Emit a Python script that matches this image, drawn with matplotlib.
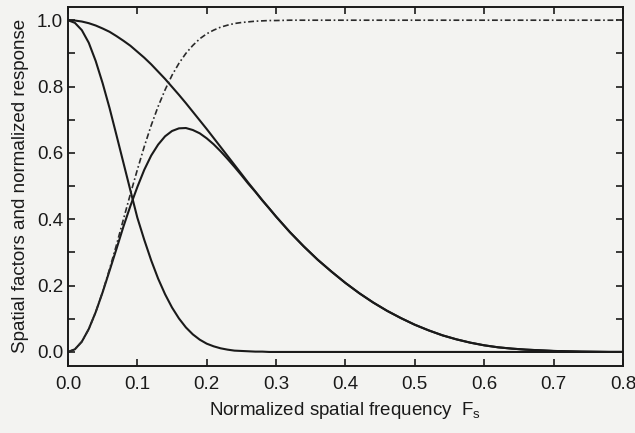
import matplotlib
matplotlib.use("Agg")
import matplotlib.pyplot as plt
from matplotlib.ticker import MultipleLocator

plt.rcParams['font.family'] = ['Liberation Sans', 'DejaVu Sans']
plt.rcParams['mathtext.fontset'] = 'custom'
plt.rcParams['mathtext.rm'] = 'Liberation Sans'

# Normalized spatial frequency
freq = [0.00, 0.01, 0.02, 0.03, 0.04, 0.05, 0.06, 0.07, 0.08, 0.09,
        0.10, 0.11, 0.12, 0.13, 0.14, 0.15, 0.16, 0.17, 0.18, 0.19,
        0.20, 0.21, 0.22, 0.23, 0.24, 0.25, 0.26, 0.27, 0.28, 0.29,
        0.30, 0.32, 0.34, 0.36, 0.38, 0.40, 0.42, 0.44, 0.46, 0.48,
        0.50, 0.52, 0.54, 0.56, 0.58, 0.60, 0.62, 0.64, 0.66, 0.68,
        0.70, 0.72, 0.74, 0.76, 0.78, 0.80]

# Narrow spatial factor (falls fast)
narrow = [1.000, 0.992, 0.970, 0.932, 0.877, 0.810, 0.735, 0.653, 0.570, 0.487,
          0.405, 0.338, 0.276, 0.221, 0.174, 0.134, 0.101, 0.074, 0.053, 0.037,
          0.025, 0.017, 0.011, 0.007, 0.004, 0.003, 0.002, 0.001, 0.001, 0.000,
          0.000, 0.000, 0.000, 0.000, 0.000, 0.000, 0.000, 0.000, 0.000, 0.000,
          0.000, 0.000, 0.000, 0.000, 0.000, 0.000, 0.000, 0.000, 0.000, 0.000,
          0.000, 0.000, 0.000, 0.000, 0.000, 0.000]

# Wide spatial factor
wide = [1.000, 0.999, 0.996, 0.991, 0.984, 0.975, 0.965, 0.952, 0.938, 0.923,
        0.905, 0.887, 0.867, 0.845, 0.823, 0.799, 0.775, 0.750, 0.724, 0.698,
        0.672, 0.645, 0.618, 0.591, 0.564, 0.537, 0.510, 0.484, 0.458, 0.433,
        0.408, 0.361, 0.318, 0.278, 0.242, 0.208, 0.177, 0.149, 0.124, 0.102,
        0.082, 0.065, 0.050, 0.038, 0.028, 0.020, 0.014, 0.010, 0.007, 0.005,
        0.003, 0.002, 0.001, 0.0005, 0.000, 0.000]

# Complementary factor (dash-dot)
complement = [0.000, 0.008, 0.031, 0.069, 0.120, 0.181, 0.250, 0.323, 0.400, 0.476,
              0.549, 0.619, 0.683, 0.740, 0.790, 0.834, 0.870, 0.900, 0.924, 0.944,
              0.959, 0.970, 0.979, 0.985, 0.990, 0.993, 0.995, 0.997, 0.998, 0.999,
              0.999, 1.000, 1.000, 1.000, 1.000, 1.000, 1.000, 1.000, 1.000, 1.000,
              1.000, 1.000, 1.000, 1.000, 1.000, 1.000, 1.000, 1.000, 1.000, 1.000,
              1.000, 1.000, 1.000, 1.000, 1.000, 1.000]

# Normalized response
response = [0.000, 0.008, 0.031, 0.069, 0.120, 0.180, 0.245, 0.311, 0.378, 0.440,
            0.497, 0.549, 0.592, 0.625, 0.650, 0.666, 0.674, 0.675, 0.669, 0.659,
            0.644, 0.626, 0.605, 0.582, 0.558, 0.533, 0.507, 0.483, 0.457, 0.433,
            0.408, 0.361, 0.318, 0.278, 0.242, 0.208, 0.177, 0.149, 0.124, 0.102,
            0.082, 0.065, 0.050, 0.038, 0.028, 0.020, 0.014, 0.010, 0.007, 0.005,
            0.003, 0.002, 0.001, 0.0005, 0.000, 0.000]

bg = '#f3f3f1'
ink = '#1a1a1a'
fs = 13.5

fig = plt.figure(figsize=(6.35, 4.33), dpi=100, facecolor=bg)
ax = fig.add_axes([0.107, 0.155, 0.874, 0.829], facecolor=bg)

ax.plot(freq, narrow, color=ink, lw=1.5, solid_capstyle='round')
ax.plot(freq, wide, color=ink, lw=1.5, solid_capstyle='round')
ax.plot(freq, response, color=ink, lw=1.5, solid_capstyle='round')
ax.plot(freq, complement, color='#2a2a2a', lw=1.2,
        linestyle=(0, (3.5, 1.6, 1.0, 1.6)))

ax.set_xlim(0, 0.8)
ax.set_ylim(-0.042, 1.04)

ax.xaxis.set_major_locator(MultipleLocator(0.1))
ax.yaxis.set_major_locator(MultipleLocator(0.2))
ax.yaxis.set_minor_locator(MultipleLocator(0.1))
ax.xaxis.set_major_formatter(plt.FuncFormatter(lambda v, p: f"{v:.1f}"))
ax.yaxis.set_major_formatter(plt.FuncFormatter(lambda v, p: f"{v:.1f}"))

ax.tick_params(which='both', direction='in', top=True, right=True,
               length=5, width=1.2, color=ink, labelcolor=ink, labelsize=fs)
ax.tick_params(axis='x', which='both', pad=7)
ax.tick_params(axis='y', which='both', pad=3.5)
ax.tick_params(axis='x', which='minor', top=False, bottom=False)
for s in ax.spines.values():
    s.set_linewidth(1.4)
    s.set_color(ink)

ax.set_xlabel(r'Normalized spatial frequency  F$_{\mathregular{s}}$',
              fontsize=fs, color=ink, labelpad=5.5)
ax.set_ylabel('Spatial factors and normalized response',
              fontsize=fs, color=ink, labelpad=6)

fig.savefig('out.png', dpi=100, facecolor=bg)
